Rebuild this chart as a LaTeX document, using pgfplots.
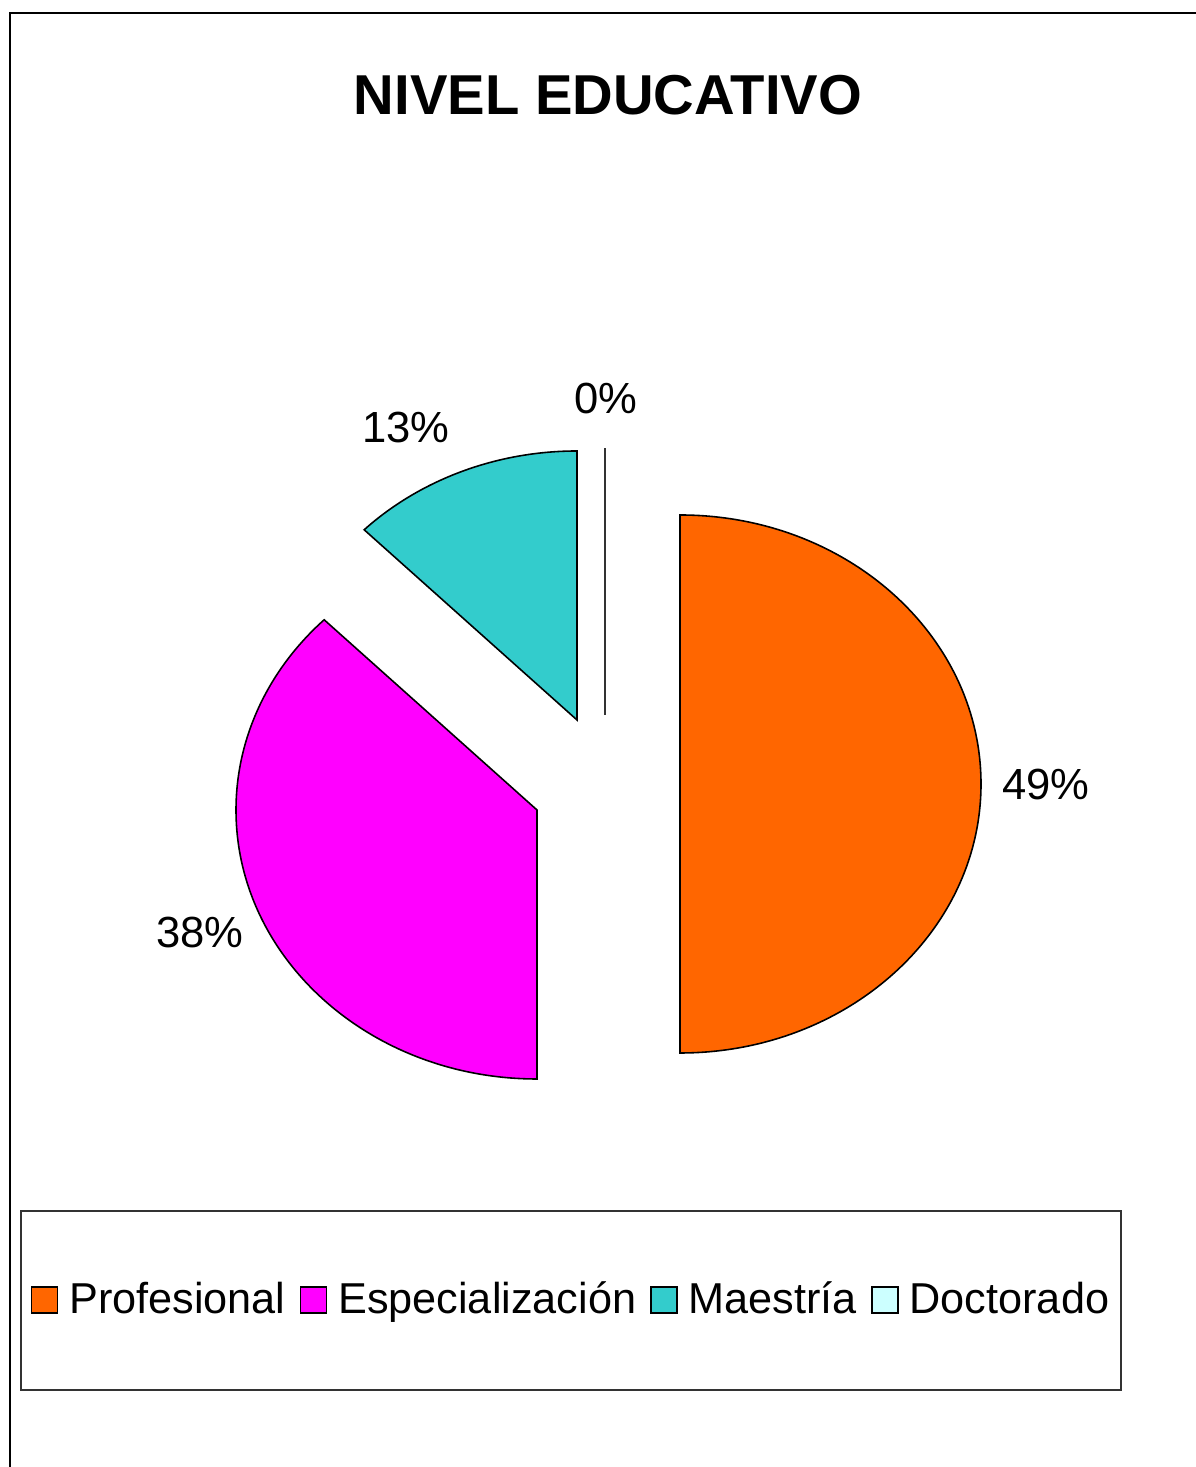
\documentclass[border=0pt]{standalone}
\usepackage{fontspec}
\setmainfont{Liberation Sans}
\usepackage{pgfplots}
\pgfplotsset{compat=1.18}

\definecolor{cProf}{HTML}{FF6600}
\definecolor{cEspe}{HTML}{FF00FF}
\definecolor{cMaes}{HTML}{33CCCC}
\definecolor{cDoct}{HTML}{CCFFFF}

% slice shares as drawn (labels show the rounded percentages)
\def\vP{40}
\def\vE{30}
\def\vM{10}
\def\vD{0}
\def\vT{80}

\newcommand{\labfont}{\fontsize{12.4}{14}\selectfont}
\newcommand{\legfont}{\fontsize{12.3}{14}\selectfont}
\newcommand{\titfont}{\fontsize{16}{18}\selectfont\bfseries}

% slice: start angle, end angle, centre coordinate, colour
\newcommand{\pieslice}[4]{%
  \pgfmathsetmacro{\aS}{#1}\pgfmathsetmacro{\aE}{#2}%
  \filldraw[fill=#4, draw=black, line width=0.45pt]
    (#3) -- ++({3.01cm*cos(\aS)},{2.69cm*sin(\aS)})
    arc[start angle=\aS, end angle=\aE, x radius=3.01cm, y radius=2.69cm] -- cycle;%
}

\begin{document}
\begin{tikzpicture}
\useasboundingbox (0,0) rectangle (11.96cm,14.67cm);
\begin{axis}[
  at={(0,0)}, anchor=south west,
  scale only axis, width=11.96cm, height=14.67cm,
  xmin=0, xmax=1196, ymin=0, ymax=1467,
  hide axis, clip=false,
  legend columns=4,
  legend image code/.code={\draw[#1, draw=black, line width=0.45pt] (0cm,-0.13cm) rectangle (0.26cm,0.13cm);},
  legend style={at={(0.0251,0.1138)}, anchor=west, draw=none, fill=none,
    font=\legfont, inner sep=0pt,
    /tikz/every odd column/.append style={column sep=0.04cm},
    /tikz/every even column/.append style={column sep=0.07cm}},
]
\addlegendimage{fill=cProf}\addlegendentry{Profesional}
\addlegendimage{fill=cEspe}\addlegendentry{Especialización}
\addlegendimage{fill=cMaes}\addlegendentry{Maestría}
\addlegendimage{fill=cDoct}\addlegendentry{Doctorado}

% outer frame and legend box
\draw[black, line width=0.75pt] (axis cs:10,-20) -- (axis cs:10,1454) -- (axis cs:1220,1454);
\draw[black!80, line width=0.5pt] (axis cs:21,77) rectangle (axis cs:1121,256);

% centres of the exploded slices
\coordinate (cP) at (axis cs:680,683);
\coordinate (cE) at (axis cs:537,657);
\coordinate (cM) at (axis cs:577,747);
\coordinate (cD) at (axis cs:605,752);
\coordinate (tD) at (axis cs:605,1019);

% percentage labels
\node[font=\labfont] at (axis cs:1046,682) {49\%};
\node[font=\labfont] at (axis cs:200,534) {38\%};
\node[font=\labfont] at (axis cs:406,1039) {13\%};
\node[font=\labfont] at (axis cs:606,1068) {0\%};

\node[font=\titfont] at (axis cs:608,1372) {NIVEL EDUCATIVO};
\end{axis}

\pieslice{90}{90-\vP/\vT*360}{cP}{cProf}
\pieslice{90-\vP/\vT*360}{90-(\vP+\vE)/\vT*360}{cE}{cEspe}
\pieslice{90-(\vP+\vE)/\vT*360}{90-(\vP+\vE+\vM)/\vT*360}{cM}{cMaes}
\draw[black!80, line width=0.6pt] (cD) -- (tD);
\end{tikzpicture}
\end{document}
